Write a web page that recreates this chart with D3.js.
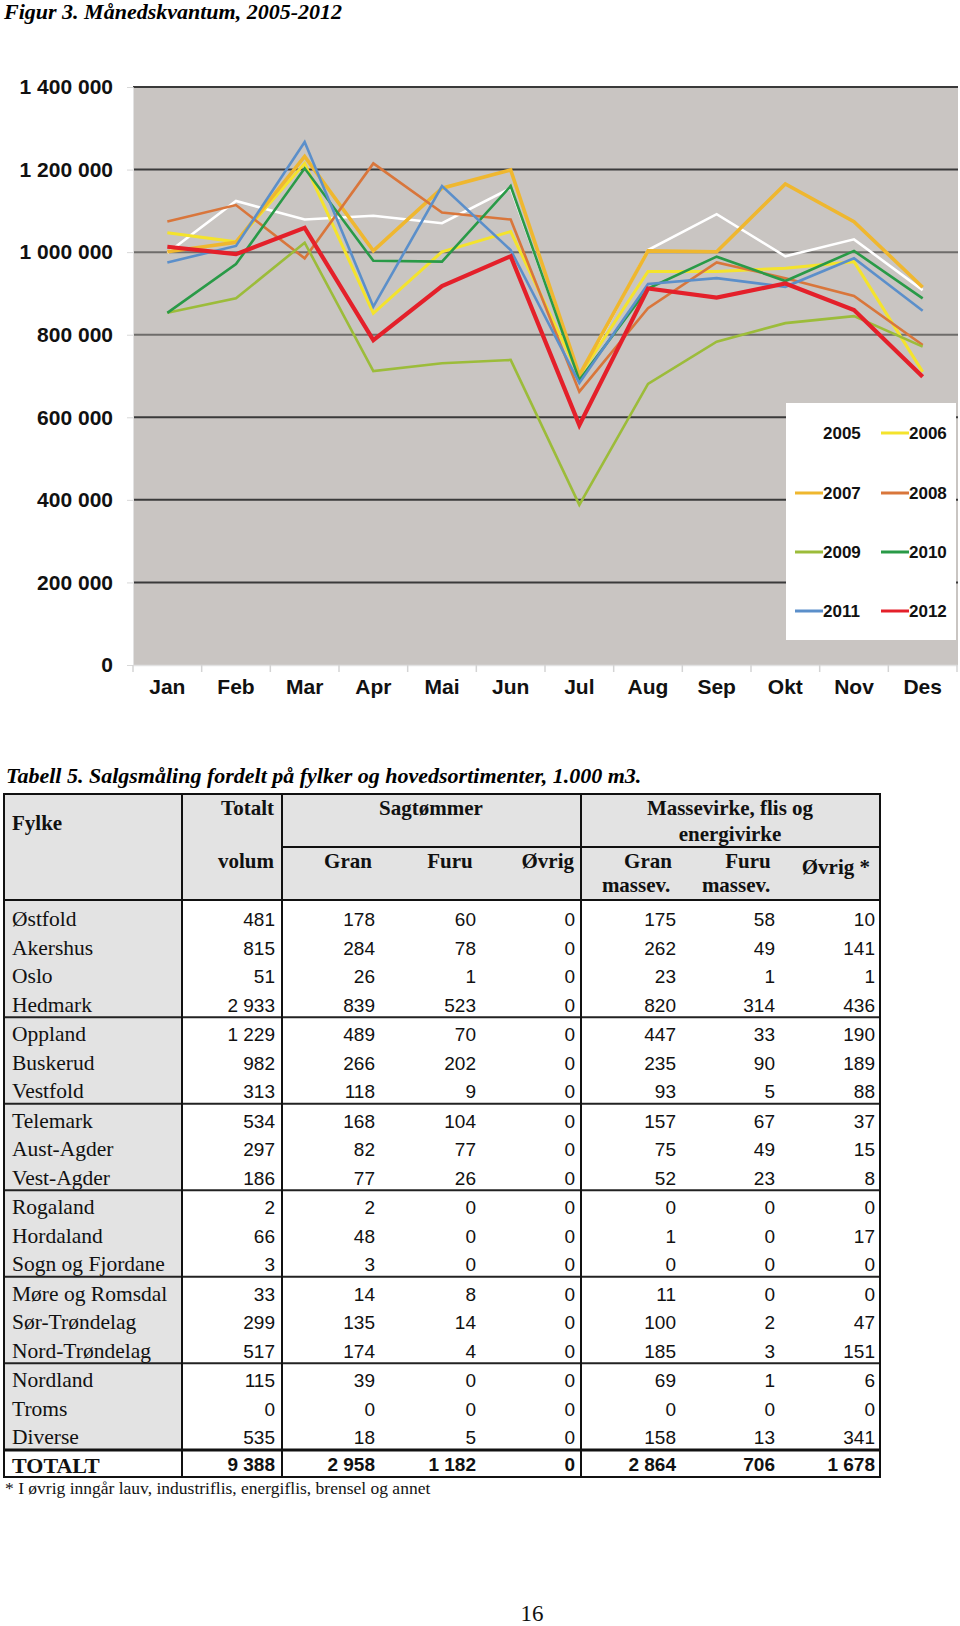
<!DOCTYPE html>
<html><head><meta charset="utf-8">
<script src="https://cdn.jsdelivr.net/npm/d3@7"></script>
<style>
body{margin:0;background:#fff;}
svg{display:block;}
</style></head><body>
<svg id="page" width="960" height="1626"></svg>
<script>
// ---------- Chart data ----------
const months = ["Jan","Feb","Mar","Apr","Mai","Jun","Jul","Aug","Sep","Okt","Nov","Des"];
const years = ["2005","2006","2007","2008","2009","2010","2011","2012"];
const v2005 = [998000,1124000,1079000,1088000,1070000,1155000,695000,1005000,1092000,990000,1031000,908000];
const v2006 = [1047000,1025000,1215000,852000,1001000,1050000,700000,953000,953000,961000,977000,710000];
const v2007 = [1001000,1024000,1232000,1003000,1155000,1199000,702000,1003000,1001000,1165000,1074000,915000];
const v2008 = [1074000,1114000,985000,1215000,1096000,1079000,662000,864000,975000,937000,894000,775000];
const v2009 = [853000,888000,1023000,712000,731000,739000,388000,681000,783000,828000,845000,771000];
const v2010 = [853000,971000,1203000,979000,977000,1160000,690000,912000,989000,930000,1003000,888000];
const v2011 = [975000,1015000,1267000,868000,1160000,1005000,683000,923000,937000,916000,985000,858000];
const v2012 = [1013000,995000,1059000,787000,918000,990000,581000,912000,890000,924000,860000,698000];
const seriesValues = [v2005,v2006,v2007,v2008,v2009,v2010,v2011,v2012];
const yTicks = [0,200000,400000,600000,800000,1000000,1200000,1400000];

// ---------- Table data ----------
const fylker = ["Østfold","Akershus","Oslo","Hedmark","Oppland","Buskerud","Vestfold","Telemark","Aust-Agder","Vest-Agder","Rogaland","Hordaland","Sogn og Fjordane","Møre og Romsdal","Sør-Trøndelag","Nord-Trøndelag","Nordland","Troms","Diverse"];
const fylkeGroup = [0,0,0,0,1,1,1,2,2,2,3,3,3,4,4,4,5,5,5];
const totaltVolum = [481,815,51,2933,1229,982,313,534,297,186,2,66,3,33,299,517,115,0,535];
const sagGran = [178,284,26,839,489,266,118,168,82,77,2,48,3,14,135,174,39,0,18];
const sagFuru = [60,78,1,523,70,202,9,104,77,26,0,0,0,8,14,4,0,0,5];
const sagOvrig = [0,0,0,0,0,0,0,0,0,0,0,0,0,0,0,0,0,0,0];
const masGran = [175,262,23,820,447,235,93,157,75,52,0,1,0,11,100,185,69,0,158];
const masFuru = [58,49,1,314,33,90,5,67,49,23,0,0,0,0,2,3,1,0,13];
const masOvrig = [10,141,1,436,190,189,88,37,15,8,0,17,0,0,47,151,6,0,341];
const totalRow = [9388,2958,1182,0,2864,706,1678];

// ---------- Styles ----------
const colors = ["#ffffff","#f4e32c","#efb72f","#d9763b","#9cbc3a","#299a47","#5b8fca","#e4202a"];
const widths = [2.6,3,3.6,2.6,2.6,2.6,2.6,4.2];

const svg = d3.select("#page");
const sans = "'Liberation Sans', Arial, sans-serif";
const serif = "'Liberation Serif', 'Times New Roman', serif";
const spaceFmt = n => d3.format(",")(n).replace(/,/g, " ");

// Title
svg.append("text").attr("x",4).attr("y",19)
  .attr("font-family",serif).attr("font-size",22).attr("font-weight","bold").attr("font-style","italic")
  .text("Figur 3. Månedskvantum, 2005-2012");

// ---------- Chart ----------
const plot = {left:133, right:957, top:87, bottom:665};
const x = d3.scaleBand().domain(months).range([plot.left, plot.right]).padding(0);
const y = d3.scaleLinear().domain([0,1400000]).range([plot.bottom, plot.top]);

svg.append("rect").attr("x",plot.left).attr("y",plot.top-1)
  .attr("width",plot.right-plot.left+1).attr("height",plot.bottom-plot.top+1)
  .attr("fill","#c9c5c2");

// gridlines
svg.append("g").selectAll("line").data(yTicks.filter(d=>d>0)).join("line")
  .attr("x1",plot.left).attr("x2",plot.right+1)
  .attr("y1",d=>y(d)).attr("y2",d=>y(d))
  .attr("stroke",d=>(d===1000000||d===800000)?"#6e6c6a":"#3a3a3a").attr("stroke-width",2);

// y axis
const yAxis = svg.append("g").attr("transform",`translate(${plot.left},0)`)
  .call(d3.axisLeft(y).tickValues(yTicks).tickSize(6).tickPadding(14).tickFormat(spaceFmt));
yAxis.select(".domain").attr("stroke","#e2e2e2");
yAxis.selectAll(".tick line").attr("stroke","#d8d8d8");
yAxis.selectAll("text").attr("font-family",sans).attr("font-size",21).attr("font-weight","bold").attr("fill","#111");

// x axis
const xAxis = svg.append("g").attr("transform",`translate(0,${plot.bottom})`)
  .call(d3.axisBottom(x).tickSize(0).tickPadding(14));
xAxis.select(".domain").attr("stroke","#e2e2e2").attr("stroke-width",1.5);
xAxis.selectAll("text").attr("font-family",sans).attr("font-size",21).attr("font-weight","bold").attr("fill","#111");
const bounds = months.map(m=>x(m)).concat([plot.right]);
svg.append("g").selectAll("line").data(bounds).join("line")
  .attr("x1",d=>d).attr("x2",d=>d).attr("y1",plot.bottom).attr("y2",plot.bottom+7)
  .attr("stroke","#d4d4d4").attr("stroke-width",1.5);

// lines
const line = d3.line().x((d,i)=>x(months[i])+x.bandwidth()/2).y(d=>y(d));
svg.append("g").selectAll("path").data(seriesValues).join("path")
  .attr("d",line).attr("fill","none")
  .attr("stroke",(d,i)=>colors[i]).attr("stroke-width",(d,i)=>widths[i])
  .attr("stroke-linejoin","miter");

// legend
const lg = svg.append("g");
lg.append("rect").attr("x",786).attr("y",403).attr("width",170).attr("height",237).attr("fill","#fff");
const legendRows = [433,493,552,611];
const legendCols = [795,881];
years.forEach((yr,i)=>{
  const cx = legendCols[i%2], cy = legendRows[Math.floor(i/2)];
  lg.append("line").attr("x1",cx).attr("x2",cx+28).attr("y1",cy).attr("y2",cy)
    .attr("stroke",colors[i]).attr("stroke-width",3);
  lg.append("text").attr("x",cx+28).attr("y",cy+6)
    .attr("font-family",sans).attr("font-size",17).attr("font-weight","bold").attr("fill","#111")
    .text(yr);
});

// ---------- Table ----------
svg.append("text").attr("x",6).attr("y",783)
  .attr("font-family",serif).attr("font-size",22).attr("font-weight","bold").attr("font-style","italic")
  .text("Tabell 5. Salgsmåling fordelt på fylker og hovedsortimenter, 1.000 m3.");

const T = {left:4, right:880, top:794, mid:847, headBottom:900};
const colX = [4,182,282,581,880];           // vertical borders
const valRight = [275,375,476,575,676,775,875]; // right edges of value columns
const rowY = d3.scaleLinear().domain([0,1]).range([919,947.5]);
const rowCenter = i => rowY(i) + fylkeGroup[i]*1;
const lastRow = fylker.length-1;
const totSep = rowCenter(lastRow)+13;
const totCenter = totSep+15;
const tableBottom = totSep+27;

const tg = svg.append("g");
// fills
tg.append("rect").attr("x",T.left).attr("y",T.top).attr("width",T.right-T.left).attr("height",T.headBottom-T.top).attr("fill","#e3e3e3");
tg.append("rect").attr("x",T.left).attr("y",T.headBottom).attr("width",colX[1]-T.left).attr("height",totSep-T.headBottom).attr("fill","#e3e3e3");

// group separators
const groupSeps = [];
for(let i=0;i<lastRow;i++){ if(fylkeGroup[i]!==fylkeGroup[i+1]) groupSeps.push((rowCenter(i)+rowCenter(i+1))/2 - 2); }
tg.selectAll(".gsep").data(groupSeps).join("line")
  .attr("x1",T.left).attr("x2",T.right).attr("y1",d=>d).attr("y2",d=>d)
  .attr("stroke","#222").attr("stroke-width",2);
// header lines
tg.append("line").attr("x1",colX[2]).attr("x2",T.right).attr("y1",T.mid).attr("y2",T.mid).attr("stroke","#111").attr("stroke-width",2);
tg.append("line").attr("x1",T.left).attr("x2",T.right).attr("y1",T.headBottom).attr("y2",T.headBottom).attr("stroke","#111").attr("stroke-width",2);
tg.append("line").attr("x1",T.left).attr("x2",T.right).attr("y1",totSep).attr("y2",totSep).attr("stroke","#111").attr("stroke-width",3);
// verticals
tg.selectAll(".vl").data(colX).join("line")
  .attr("x1",d=>d).attr("x2",d=>d).attr("y1",T.top).attr("y2",tableBottom)
  .attr("stroke","#111").attr("stroke-width",2);
tg.append("rect").attr("x",T.left).attr("y",T.top).attr("width",T.right-T.left).attr("height",tableBottom-T.top)
  .attr("fill","none").attr("stroke","#111").attr("stroke-width",2);

// header text
const hText = (txt,xx,yy,anchor,size)=>tg.append("text").attr("x",xx).attr("y",yy).attr("text-anchor",anchor||"start")
  .attr("font-family",serif).attr("font-size",size||21).attr("font-weight","bold").attr("fill","#111").text(txt);
hText("Fylke",12,830);
hText("Totalt",274,815,"end");
hText("Sagtømmer",431,815,"middle");
hText("Massevirke, flis og",730,815,"middle");
hText("energivirke",730,841,"middle");
hText("volum",274,868,"end");
hText("Gran",348,868,"middle");
hText("Furu",450,868,"middle");
hText("Øvrig",574,868,"end");
hText("Gran",648,868,"middle");
hText("massev.",636,892,"middle");
hText("Furu",748,868,"middle");
hText("massev.",736,892,"middle");
hText("Øvrig *",870,874,"end");

// body
const columns = [totaltVolum,sagGran,sagFuru,sagOvrig,masGran,masFuru,masOvrig];
fylker.forEach((name,i)=>{
  const cy = rowCenter(i)+7;
  tg.append("text").attr("x",12).attr("y",cy).attr("font-family",serif).attr("font-size",21.5).attr("fill","#111").text(name);
  columns.forEach((col,j)=>{
    tg.append("text").attr("x",valRight[j]).attr("y",cy).attr("text-anchor","end")
      .attr("font-family",sans).attr("font-size",19).attr("fill","#111").text(spaceFmt(col[i]));
  });
});
tg.append("text").attr("x",12).attr("y",totCenter+8).attr("font-family",serif).attr("font-size",22).attr("font-weight","bold").attr("fill","#111").text("TOTALT");
totalRow.forEach((v,j)=>{
  tg.append("text").attr("x",valRight[j]).attr("y",totCenter+6).attr("text-anchor","end")
    .attr("font-family",sans).attr("font-size",19).attr("font-weight","bold").attr("fill","#111").text(spaceFmt(v));
});
svg.append("text").attr("x",5).attr("y",tableBottom+17).attr("font-family",serif).attr("font-size",17.5).attr("fill","#111")
  .text("* I øvrig inngår lauv, industriflis, energiflis, brensel og annet");

// page number
svg.append("text").attr("x",532).attr("y",1621).attr("text-anchor","middle")
  .attr("font-family",serif).attr("font-size",23).attr("fill","#111").text("16");
</script>
</body></html>
